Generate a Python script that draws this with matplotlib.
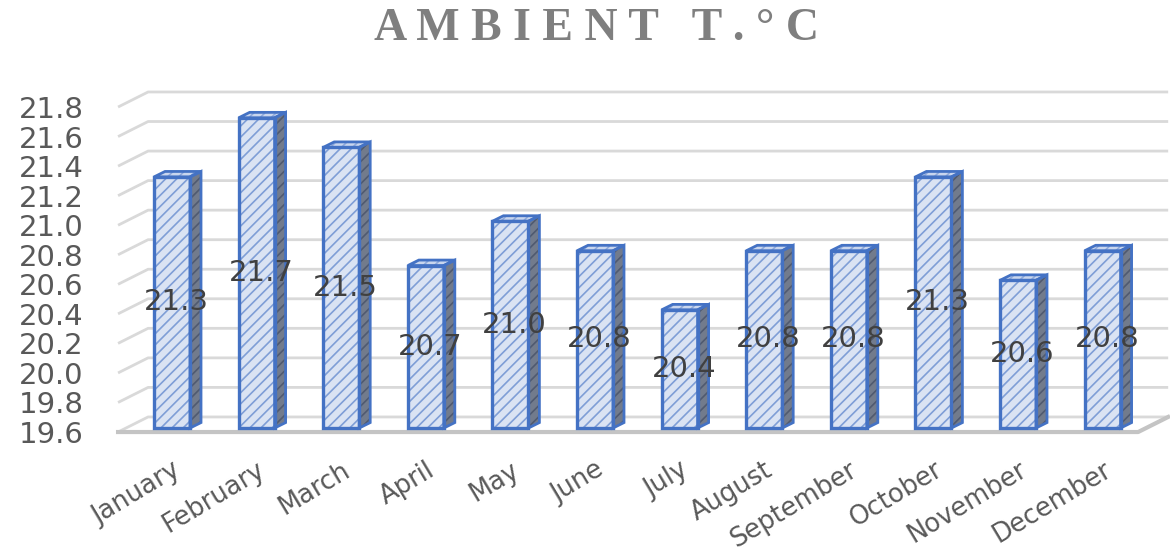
import matplotlib
matplotlib.use('Agg')
import matplotlib.pyplot as plt
from matplotlib.patches import Rectangle, Polygon

plt.rcParams['font.family'] = ['DejaVu Sans']
plt.rcParams['hatch.linewidth'] = 1.2

# monthly ambient temperature
months = ['January', 'February', 'March', 'April', 'May', 'June',
          'July', 'August', 'September', 'October', 'November', 'December']
temps = [21.3, 21.7, 21.5, 20.7, 21.0, 20.8, 20.4, 20.8, 20.8, 21.3, 20.6, 20.8]

yticks = [19.6, 19.8, 20.0, 20.2, 20.4, 20.6, 20.8, 21.0, 21.2, 21.4, 21.6, 21.8]
ymin = 19.6

# pseudo 3d offsets (category units, value units)
back_dx, back_dy = 0.355, 0.102     # back wall
bar_dy = 0.027                      # bars sit a little behind the front edge
side_dx, side_dy = 0.13, 0.037      # depth of one bar
bar_w = 0.425
left_front, right_front = -0.638, 11.42

fig = plt.figure(figsize=(11.71, 5.53), dpi=100)
ax = fig.add_axes([0.0855, 0.1787, 0.9139, 0.6678])
ax.set_xlim(-0.85, 11.8)
ax.set_ylim(19.45, 21.95)

grid_c = '#d9d9d9'
for t in yticks:
    ax.plot([left_front, left_front + back_dx, right_front + back_dx],
            [t, t + back_dy, t + back_dy], color=grid_c, lw=2, zorder=1,
            solid_capstyle='butt')

# floor
ax.plot([left_front, right_front, right_front + back_dx],
        [ymin, ymin, ymin + back_dy], color='#c4c4c4', lw=3, zorder=1)

# bars: front face, right side, top
for i, v in enumerate(temps):
    x0 = i - bar_w / 2
    x1 = i + bar_w / 2
    y0 = ymin + bar_dy
    y1 = v + bar_dy
    side = [(x1, y0), (x1 + side_dx, y0 + side_dy),
            (x1 + side_dx, y1 + side_dy), (x1, y1)]
    top = [(x0, y1), (x1, y1), (x1 + side_dx, y1 + side_dy),
           (x0 + side_dx, y1 + side_dy)]
    ax.add_patch(Polygon(side, closed=True, facecolor='#727b8c',
                         edgecolor='#505a70', hatch='///', lw=0, zorder=3))
    ax.add_patch(Polygon(side, closed=True, fill=False,
                         edgecolor='#4472c4', lw=2, zorder=4))
    ax.add_patch(Polygon(top, closed=True, facecolor='#c9d6ee',
                         edgecolor='#8faadc', hatch='///', lw=0, zorder=3))
    ax.add_patch(Polygon(top, closed=True, fill=False,
                         edgecolor='#4472c4', lw=2, zorder=4))
    ax.add_patch(Rectangle((x0, y0), bar_w, v - ymin, facecolor='#dae3f3',
                           edgecolor='#7f9ed6', hatch='///', lw=0, zorder=3))
    ax.add_patch(Rectangle((x0, y0), bar_w, v - ymin, fill=False,
                           edgecolor='#4472c4', lw=2.4, zorder=4))
    ax.text(i + 0.05, (ymin + v) / 2 + bar_dy, '%.1f' % v,
            ha='center', va='center', fontsize=21, color='#404040', zorder=5)

ax.set_yticks(yticks)
ax.set_yticklabels(['%.1f' % t for t in yticks], fontsize=21, color='#595959')
ax.set_xticks(range(len(months)))
ax.set_xticklabels(months, fontsize=18.5, color='#595959', rotation=31,
                   ha='right', va='top', rotation_mode='anchor')
ax.tick_params(axis='y', length=0, pad=12)
ax.tick_params(axis='x', length=0, pad=2)
for s in ax.spines.values():
    s.set_visible(False)

fig.text(0.509, 0.948, 'A M B I E N T   T . ° C', ha='center', va='center',
         fontsize=33, fontweight='bold', color='#7f7f7f',
         family='Liberation Serif')

fig.savefig('out.png', dpi=100)
